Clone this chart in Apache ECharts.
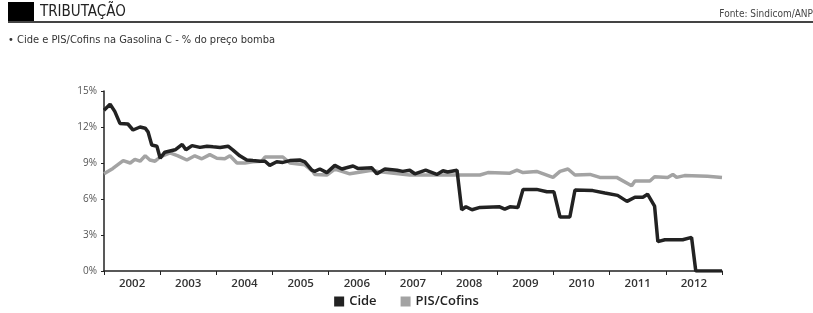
<!DOCTYPE html>
<html>
<head>
<meta charset="utf-8">
<script src="https://cdn.jsdelivr.net/npm/echarts@6/dist/echarts.min.js"></script>
<style>
  html, body { margin: 0; padding: 0; background: #fff; }
  #chart { width: 813px; height: 313px; }
</style>
</head>
<body>
<div id="chart"></div>
<script>
// years shown on the axis
const years = ['2002', '2003', '2004', '2005', '2006', '2007', '2008', '2009', '2010', '2011', '2012'];

// [month since Jan 2002, % of pump price]
const cide = [
  [0, 13.4], [1.3, 13.9], [2.3, 13.3], [3.4, 12.3], [5.1, 12.25], [6.2, 11.75], [7.7, 12.0],
  [8.8, 11.9], [9.4, 11.6], [10.2, 10.5], [11.3, 10.4], [12.0, 9.4], [13.0, 9.9], [14.1, 10.0],
  [15.2, 10.1], [16.7, 10.55], [17.5, 10.1], [18.8, 10.45], [20.5, 10.3], [22.0, 10.4],
  [23.3, 10.35], [24.8, 10.3], [26.5, 10.4], [27.5, 10.1], [29.0, 9.6], [30.5, 9.25],
  [31.8, 9.2], [33.3, 9.15], [34.4, 9.15], [35.4, 8.8], [36.9, 9.1], [38.2, 9.05], [39.7, 9.2],
  [41.8, 9.25], [42.9, 9.1], [44.4, 8.4], [45.0, 8.3], [46.1, 8.5], [47.6, 8.2], [49.3, 8.8],
  [50.8, 8.5], [53.2, 8.75], [54.2, 8.55], [57.2, 8.6], [58.3, 8.1], [60.0, 8.5], [62.6, 8.4],
  [63.8, 8.3], [65.3, 8.4], [66.4, 8.1], [68.7, 8.4], [71.1, 8.05], [72.4, 8.35], [73.4, 8.25],
  [75.4, 8.4], [76.4, 5.1], [77.3, 5.35], [78.6, 5.1], [80.3, 5.3], [84.5, 5.35], [85.6, 5.15],
  [86.7, 5.35], [88.4, 5.3], [89.5, 6.8], [92.4, 6.8], [94.6, 6.6], [96.1, 6.6], [97.4, 4.5],
  [99.5, 4.5], [100.6, 6.75], [104.4, 6.7], [107.0, 6.5], [109.7, 6.3], [111.7, 5.8],
  [113.4, 6.15], [115.1, 6.15], [116.1, 6.4], [117.6, 5.4], [118.3, 2.45], [119.8, 2.6],
  [123.6, 2.6], [125.5, 2.8], [126.4, 0], [132, 0]
];

const pisCofins = [
  [0, 8.1], [1.9, 8.55], [4.1, 9.2], [5.6, 9.0], [6.6, 9.3], [7.7, 9.15], [8.8, 9.6], [9.8, 9.25],
  [10.9, 9.15], [12.0, 9.5], [14.1, 9.85], [15.8, 9.6], [17.7, 9.25], [19.4, 9.6], [20.9, 9.35],
  [22.6, 9.7], [24.1, 9.4], [25.8, 9.35], [26.9, 9.6], [28.4, 9.0], [30.1, 9.0], [31.8, 9.1],
  [33.7, 9.15], [34.4, 9.5], [38.2, 9.5], [39.7, 9.0], [42.9, 8.85], [44.6, 8.3], [45.0, 8.05],
  [47.6, 8.0], [49.3, 8.5], [52.5, 8.1], [57.2, 8.4], [58.5, 8.3], [65.3, 8.0], [80.3, 8.0],
  [82.0, 8.2], [86.7, 8.15], [88.2, 8.4], [89.5, 8.2], [92.4, 8.3], [95.9, 7.8], [97.4, 8.3],
  [99.1, 8.5], [100.6, 8.0], [103.8, 8.05], [105.9, 7.8], [109.5, 7.8], [112.7, 7.1],
  [113.4, 7.5], [116.6, 7.5], [117.6, 7.85], [120.4, 7.8], [121.5, 8.05], [122.3, 7.8],
  [124.0, 7.95], [128.9, 7.9], [132, 7.8]
];

const chartDom = document.getElementById('chart');
const myChart = echarts.init(chartDom);

const condensed = '"Liberation Sans Narrow", "DejaVu Sans Condensed", sans-serif';

const option = {
  animation: false,
  backgroundColor: '#fff',
  graphic: [
    { type: 'rect', shape: { x: 8, y: 2, width: 26, height: 21 }, style: { fill: '#000' } },
    { type: 'rect', shape: { x: 8, y: 21, width: 805, height: 2 }, style: { fill: '#444' } },
    { type: 'text', left: 40, top: 5, style: { text: 'TRIBUTAÇÃO', font: '15px ' + condensed, fill: '#222' } },
    { type: 'text', right: 0, top: 9, style: { text: 'Fonte: Sindicom/ANP', font: '10px ' + condensed, fill: '#444' } },
    { type: 'text', left: 8, top: 35, style: { text: '• Cide e PIS/Cofins na Gasolina C - % do preço bomba', font: '11px ' + condensed, fill: '#333' } }
  ],
  legend: {
    bottom: 0,
    left: 'center',
    icon: 'rect',
    itemWidth: 10,
    itemHeight: 10,
    itemGap: 24,
    data: ['Cide', 'PIS/Cofins'],
    textStyle: { fontFamily: '"Open Sans", sans-serif', fontSize: 13, fontWeight: 600, color: '#222' }
  },
  grid: { left: 104, right: 91, top: 91, bottom: 42, containLabel: false },
  xAxis: [
    {
      type: 'category',
      data: years,
      boundaryGap: true,
      axisLine: { lineStyle: { color: '#222', width: 1.5 } },
      axisTick: { show: true, length: 4, alignWithLabel: false, lineStyle: { color: '#222' } },
      axisLabel: { color: '#333', fontFamily: '"Open Sans", sans-serif', fontSize: 11.5, fontWeight: 600, margin: 7 },
      splitLine: { show: false }
    },
    { type: 'value', min: 0, max: 132, show: false }
  ],
  yAxis: {
    type: 'value',
    min: 0,
    max: 15,
    interval: 3,
    axisLine: { show: true, lineStyle: { color: '#222', width: 1.5 } },
    axisTick: { show: true, length: 3, lineStyle: { color: '#222' } },
    axisLabel: { formatter: '{value}%', color: '#555', fontFamily: '"Open Sans", sans-serif', fontSize: 10, margin: 7 },
    splitLine: { show: false }
  },
  series: [
    {
      name: 'PIS/Cofins',
      type: 'line',
      xAxisIndex: 1,
      data: pisCofins,
      symbol: 'none',
      lineStyle: { color: '#a3a3a3', width: 3.5 },
      itemStyle: { color: '#a3a3a3' }
    },
    {
      name: 'Cide',
      type: 'line',
      xAxisIndex: 1,
      data: cide,
      symbol: 'none',
      lineStyle: { color: '#222', width: 3.5 },
      itemStyle: { color: '#222' }
    }
  ]
};

myChart.setOption(option);
</script>
</body>
</html>
